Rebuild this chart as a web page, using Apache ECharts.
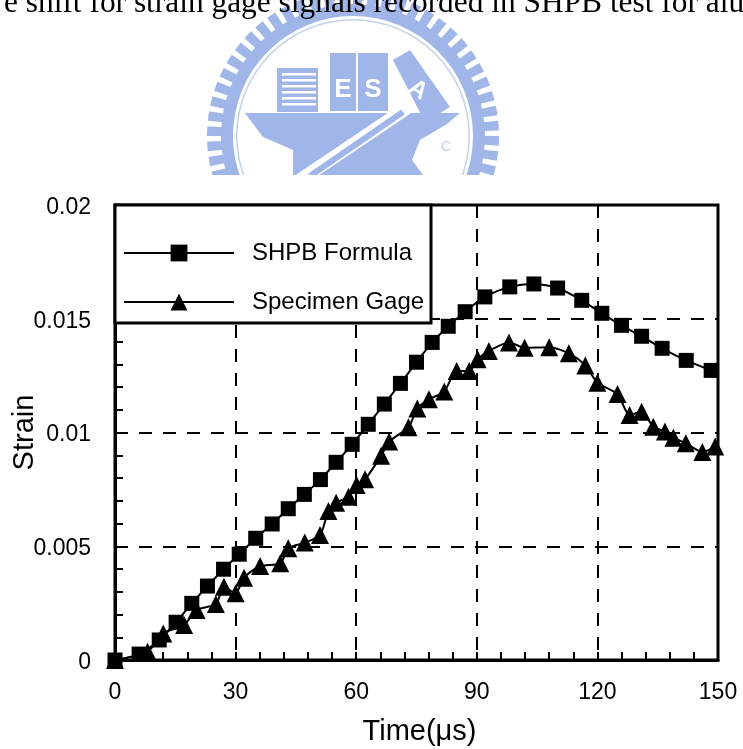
<!DOCTYPE html>
<html>
<head>
<meta charset="utf-8">
<style>html,body{margin:0;padding:0;background:#fff}#c{width:743px;height:749px}</style>
<script src="https://cdn.jsdelivr.net/npm/echarts@6/dist/echarts.min.js"></script>
</head>
<body>
<div id="c"></div>
<script>
const captionText = 'e shift for strain gage signals recorded in SHPB test for alu';
const xTitle = 'Time(μs)';
const yTitle = 'Strain';
const seriesNames = ['SHPB Formula', 'Specimen Gage'];
const formulaTime = [0,6,11,15.2,19.1,23,27,30.9,35,39.1,43.1,47.1,51.1,55,59,63,67,71,75,78.9,82.9,87.1,92,98.2,104.2,110.1,116.1,121.1,126,131,136.1,142.1,148.3];
const formulaStrain = [0,0.00026,0.00088,0.00166,0.00249,0.00325,0.00399,0.00465,0.00535,0.00598,0.00665,0.00728,0.00793,0.00869,0.00948,0.01036,0.01125,0.01216,0.01309,0.01396,0.01467,0.01531,0.01596,0.0164,0.01653,0.01635,0.01581,0.01524,0.01471,0.01423,0.0137,0.01317,0.01273];
const gageTime = [0,8.1,12,17.2,20.3,25.1,27.1,30,32.1,36.1,41.1,43.1,47.2,51,53.1,55,58.1,60.1,62.2,66.2,68.2,73,75.2,78.1,81.9,85,88.1,90.2,93,98,101.9,108,112.9,117,120,125,128,131,133.9,136.8,138.9,142,146.1,149.3];
const gageStrain = [0,0.00036,0.00117,0.00154,0.0022,0.00246,0.00322,0.00293,0.00362,0.00413,0.00425,0.00491,0.00516,0.00549,0.00655,0.00691,0.00718,0.00769,0.00794,0.00898,0.0096,0.01023,0.01106,0.01146,0.0118,0.0127,0.0127,0.01322,0.01358,0.01396,0.01373,0.01375,0.01348,0.01295,0.01219,0.01169,0.01077,0.01091,0.01025,0.01004,0.00977,0.00953,0.00914,0.00938];

const pair = (xs, ys) => xs.map((x, i) => [x, ys[i]]);
const BLUE = '#a0b5e8';
const cx = 353, cy = 136;
const logo = [];
for (let i = 0; i < 60; i++) {
  const a = i * 6 * Math.PI / 180;
  logo.push({type:'sector', z:-2, shape:{cx, cy, r:146, r0:128, startAngle:a, endAngle:a + 3.8 * Math.PI / 180}, style:{fill:BLUE}});
}
logo.push({type:'ring', z:-2, shape:{cx, cy, r:132, r0:120}, style:{fill:BLUE}});
logo.push({type:'ring', z:-2, shape:{cx, cy, r:117, r0:115.5}, style:{fill:'#c3d0ee'}});
logo.push({type:'rect', z:-2, shape:{x:277, y:68, width:41, height:44}, style:{fill:BLUE}});
[73, 79, 85, 91, 97, 103].forEach(y => logo.push({type:'rect', z:-2, shape:{x:282, y, width:34, height:2.5}, style:{fill:'#fff'}}));
logo.push({type:'rect', z:-2, shape:{x:330, y:53, width:26, height:58}, style:{fill:BLUE}});
logo.push({type:'rect', z:-2, shape:{x:358, y:53, width:30, height:58}, style:{fill:BLUE}});
logo.push({type:'text', z:-2, style:{x:343, y:90, text:'E', fill:'#fff', font:'bold 26px "Liberation Sans"', align:'center', verticalAlign:'middle'}});
logo.push({type:'text', z:-2, style:{x:373, y:90, text:'S', fill:'#fff', font:'bold 26px "Liberation Sans"', align:'center', verticalAlign:'middle'}});
logo.push({type:'polygon', z:-2, shape:{points:[[393,60],[410,50],[450,107],[425,122]]}, style:{fill:BLUE}});
logo.push({type:'text', z:-2, rotation:-0.6, x:418, y:90, style:{x:0, y:0, text:'A', fill:'#fff', font:'bold 24px "Liberation Sans"', align:'center', verticalAlign:'middle'}});
logo.push({type:'polygon', z:-2, shape:{points:[[245,113],[460,113],[447,124],[420,140],[412,160],[423,175],[293,175],[293,150],[263,137]]}, style:{fill:BLUE}});
logo.push({type:'polyline', z:-2, shape:{points:[[407,108],[300,180]]}, style:{stroke:'#fff', lineWidth:13, fill:null}});
logo.push({type:'polyline', z:-2, shape:{points:[[403,112],[310,176]]}, style:{stroke:BLUE, lineWidth:6, fill:null}});
logo.push({type:'text', z:-2, style:{x:446, y:147, text:'C', fill:'#c3d0ee', font:'14px "Liberation Sans"', align:'center', verticalAlign:'middle'}});
logo.push({type:'rect', z:-1, shape:{x:0, y:175, width:743, height:574}, style:{fill:'#fff'}});
logo.push({type:'rect', z:3, shape:{x:115, y:205, width:316, height:118}, style:{fill:'#fff', stroke:'#000', lineWidth:3}});

const chart = echarts.init(document.getElementById('c'), null, {renderer:'canvas'});
const SANS = '"Liberation Sans", Arial, sans-serif';
const seriesCommon = {type:'line', smooth:0.25, clip:false, showSymbol:true, showAllSymbols:true, z:2,
  lineStyle:{color:'#000', width:2}, itemStyle:{color:'#000'}};
chart.setOption({
  animation:false,
  backgroundColor:'#fff',
  title:{text:captionText, left:-1, top:-17, textStyle:{fontFamily:'"Liberation Serif", serif', fontSize:31.4, fontWeight:'normal', color:'#000'}, z:6},
  graphic:logo,
  grid:{left:115, right:25, top:205, bottom:89, show:true, borderColor:'#000', borderWidth:3, backgroundColor:'transparent', outerBoundsMode:'none', containLabel:false},
  legend:{orient:'vertical', left:118, top:236, z:5, itemWidth:110, itemHeight:21, itemGap:25,
    data:seriesNames, textStyle:{fontFamily:SANS, fontSize:24, color:'#000', padding:[0,0,0,13]}},
  xAxis:{type:'value', min:0, max:150, interval:30, name:xTitle, nameLocation:'middle', nameGap:57,
    nameTextStyle:{fontFamily:SANS, fontSize:29, color:'#000', padding:[0,0,0,6]},
    axisLine:{lineStyle:{color:'#000', width:3}},
    axisTick:{show:true, inside:true, length:8, lineStyle:{color:'#000', width:2}},
    minorTick:{show:true, splitNumber:5, length:8, lineStyle:{color:'#000', width:2}},
    axisLabel:{fontFamily:SANS, fontSize:23, color:'#000', margin:21},
    splitLine:{show:true, lineStyle:{color:'#000', width:2, type:[13,11]}}},
  yAxis:{type:'value', min:0, max:0.02, interval:0.005, name:yTitle, nameLocation:'middle', nameGap:76, nameMoveOverlap:false,
    nameTextStyle:{fontFamily:SANS, fontSize:29, color:'#000'},
    axisLine:{show:true, lineStyle:{color:'#000', width:3}},
    axisTick:{show:true, inside:true, length:8, lineStyle:{color:'#000', width:2}},
    minorTick:{show:true, splitNumber:5, length:8, lineStyle:{color:'#000', width:2}},
    axisLabel:{margin:24, formatter:v => '{v|' + v + '}',
      rich:{v:{fontFamily:SANS, fontSize:23, color:'#000', padding:[5,0,0,0]}}},
    splitLine:{show:true, lineStyle:{color:'#000', width:2, type:[13,11]}}},
  series:[
    Object.assign({}, seriesCommon, {name:seriesNames[0], symbol:'rect', symbolSize:15, data:pair(formulaTime, formulaStrain)}),
    Object.assign({}, seriesCommon, {name:seriesNames[1], symbol:'triangle', symbolSize:18, data:pair(gageTime, gageStrain)})
  ]
});
</script>
</body>
</html>
